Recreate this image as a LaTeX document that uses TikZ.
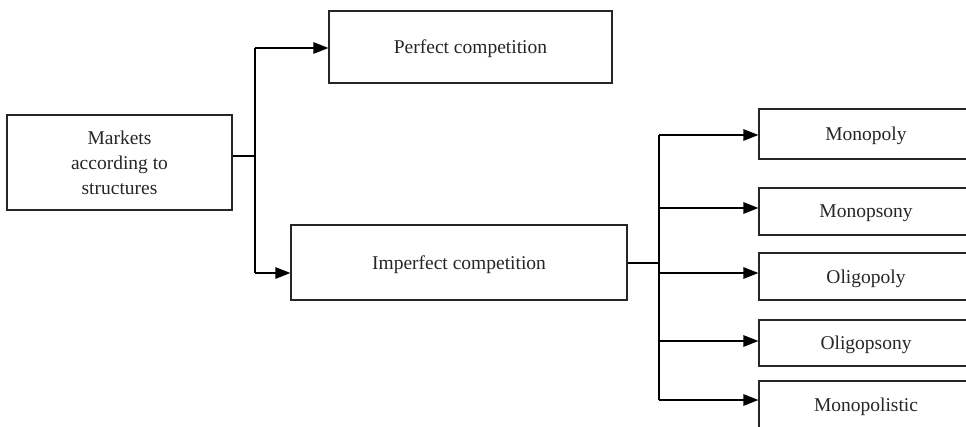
\documentclass[tikz,border=0pt]{standalone}
\usepackage{fontspec}
\setmainfont{Liberation Serif}
\usetikzlibrary{arrows.meta,calc}
\begin{document}
\begin{tikzpicture}[x=1pt,y=-1pt,
  box/.style={draw=black!85,line width=1.2pt,inner sep=0pt,align=center,
    font=\fontsize{19.5}{25}\selectfont,text=black!85,text depth=0pt},
  conn/.style={draw=black,line width=1.2pt},
  arr/.style={conn,-{Triangle[length=15pt,width=11.5pt]}}]
\useasboundingbox (0,0) rectangle (966,426);
\clip (0,0) rectangle (966,426);
% boxes
\node[box,minimum width=225,minimum height=95] (mk) at (119.5,162.5) {Markets\\according to\\structures};
\node[box,minimum width=283,minimum height=72] (pc) at (470.5,47) {Perfect competition};
\node[box,minimum width=336,minimum height=75] (ic) at (459,262.5) {Imperfect competition};
\node[box,minimum width=214,minimum height=50,text width=208] (m1) at (866,134) {Monopoly};
\node[box,minimum width=214,minimum height=47,text width=208] (m2) at (866,211.5) {Monopsony};
\node[box,minimum width=214,minimum height=47,text width=208] (m3) at (866,276.5) {Oligopoly};
\node[box,minimum width=214,minimum height=46,text width=208] (m4) at (866,343) {Oligopsony};
\node[box,minimum width=214,minimum height=48,text width=208] (m5) at (866,405) {Monopolistic};
% junctions
\coordinate (j0) at (255,156);
\coordinate (jt) at (255,48);
\coordinate (jb) at (255,273);
\coordinate (k0) at (659,263);
\coordinate (k1) at (659,135);
\coordinate (k2) at (659,208);
\coordinate (k3) at (659,273);
\coordinate (k4) at (659,341);
\coordinate (k5) at (659,400);
% connectors
\draw[conn] (mk.east |- j0) -- (j0);
\draw[conn] (jt) -- (jb);
\draw[arr] (jt) -- (jt -| pc.west);
\draw[arr] (jb) -- (jb -| ic.west);
\draw[conn] (ic.east |- k0) -- (k0);
\draw[conn] (k1) -- (k5);
\draw[arr] (k1) -- (k1 -| m1.west);
\draw[arr] (k2) -- (k2 -| m2.west);
\draw[arr] (k3) -- (k3 -| m3.west);
\draw[arr] (k4) -- (k4 -| m4.west);
\draw[arr] (k5) -- (k5 -| m5.west);
\end{tikzpicture}
\end{document}
